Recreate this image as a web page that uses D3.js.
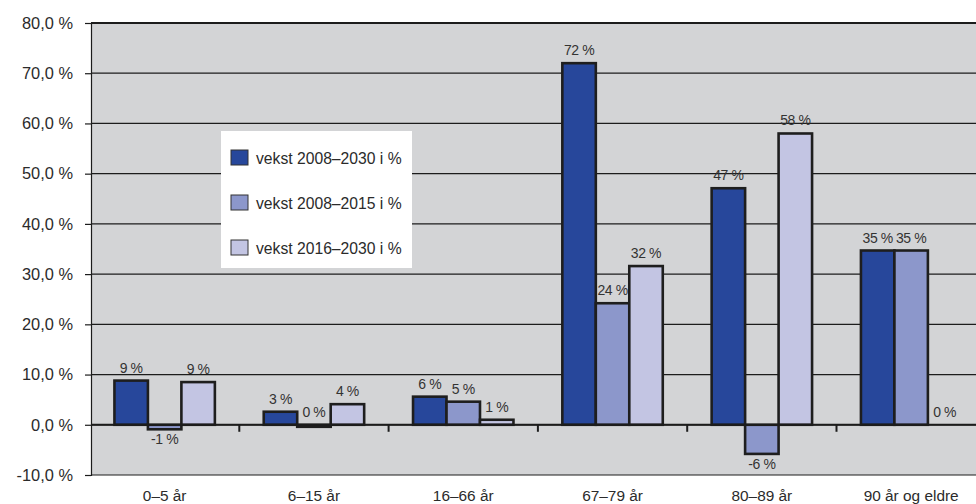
<!DOCTYPE html>
<html>
<head>
<meta charset="utf-8">
<script src="https://cdn.jsdelivr.net/npm/d3@7/dist/d3.min.js"></script>
<style>
  html, body { margin: 0; padding: 0; background: #fff; }
  svg { display: block; font-family: "Liberation Sans", Arial, sans-serif; }
</style>
</head>
<body>
<svg id="chart" width="976" height="504"></svg>
<script>
// Age groups along the x axis
const categories = ["0–5 år", "6–15 år", "16–66 år", "67–79 år", "80–89 år", "90 år og eldre"];

// Growth in percent per age group
const seriesNames = ["vekst 2008–2030 i %", "vekst 2008–2015 i %", "vekst 2016–2030 i %"];
const vekst2008_2030 = [8.8, 2.6, 5.6, 72.0, 47.1, 34.7];
const vekst2008_2015 = [-0.9, -0.4, 4.6, 24.2, -5.8, 34.7];
const vekst2016_2030 = [8.5, 4.1, 1.0, 31.6, 58.0, 0];
const seriesValues = [vekst2008_2030, vekst2008_2015, vekst2016_2030];

// Y axis ticks
const yTicks = [-10, 0, 10, 20, 30, 40, 50, 60, 70, 80];

const colors = ["#27479b", "#8c97cb", "#c3c5e3"];

const W = 976, H = 504;
const plot = { left: 91, right: 976, top: 23, bottom: 475 };

const svg = d3.select("#chart");

const y = d3.scaleLinear().domain([-10, 80]).range([plot.bottom, plot.top]);
const x0 = d3.scaleBand().domain(categories).range([90, 90 + 6 * 149.3]);
const x1 = d3.scaleBand().domain(d3.range(seriesNames.length))
  .range([0, x0.bandwidth()]).paddingInner(0).paddingOuter(0.73);

// Plot background
svg.append("rect")
  .attr("x", plot.left).attr("y", plot.top)
  .attr("width", plot.right - plot.left).attr("height", plot.bottom - plot.top)
  .attr("fill", "#d3d4d6");

// Horizontal gridlines
svg.append("g").selectAll("line").data(yTicks).join("line")
  .attr("x1", plot.left).attr("x2", plot.right)
  .attr("y1", d => y(d)).attr("y2", d => y(d))
  .attr("stroke", "#1c1c1c")
  .attr("stroke-width", d => (d === 80 ? 2 : 1.2));

// Y axis
const yAxis = svg.append("g")
  .attr("transform", `translate(${plot.left},0)`)
  .call(d3.axisLeft(y).tickValues(yTicks).tickSize(6).tickPadding(12)
    .tickFormat(d => d.toFixed(1).replace(".", ",") + " %"));
yAxis.select(".domain").attr("stroke", "#1c1c1c").attr("stroke-width", 1.2);
yAxis.selectAll(".tick line").attr("stroke", "#1c1c1c").attr("stroke-width", 1.2);
yAxis.selectAll(".tick text")
  .attr("fill", "#2b2b2b")
  .style("font-size", "16.4px")
  .style("font-family", "'Liberation Sans', Arial, sans-serif");

// Bars
const barData = [];
categories.forEach((c, ci) => {
  seriesValues.forEach((vals, si) => {
    barData.push({ c, si, v: vals[ci] });
  });
});

svg.append("g").selectAll("rect").data(barData.filter(d => d.v !== 0)).join("rect")
  .attr("x", d => x0(d.c) + x1(d.si))
  .attr("width", x1.bandwidth())
  .attr("y", d => y(Math.max(0, d.v)))
  .attr("height", d => Math.abs(y(d.v) - y(0)))
  .attr("fill", d => colors[d.si])
  .attr("stroke", "#1e1e1e")
  .attr("stroke-width", 2.6);

// Zero line
svg.append("line")
  .attr("x1", plot.left).attr("x2", plot.right)
  .attr("y1", y(0)).attr("y2", y(0))
  .attr("stroke", "#1c1c1c").attr("stroke-width", 2);

// Category separators below the zero line
svg.append("g").selectAll("line").data(categories.slice(1)).join("line")
  .attr("x1", d => x0(d)).attr("x2", d => x0(d))
  .attr("y1", y(0)).attr("y2", y(0) + 7)
  .attr("stroke", "#1c1c1c").attr("stroke-width", 2);

// Value labels
svg.append("g").selectAll("text").data(barData).join("text")
  .attr("x", d => x0(d.c) + x1(d.si) + x1.bandwidth() / 2)
  .attr("y", d => Math.round(d.v) >= 0 ? y(Math.max(0, d.v)) - 8 : y(d.v) + 15)
  .attr("text-anchor", "middle")
  .attr("fill", "#333")
  .style("font-size", "14px")
  .style("letter-spacing", "-0.4px")
  .text(d => `${Math.round(d.v)} %`);

// Category labels, kept inside the page on the right
const catLabels = svg.append("g").selectAll("text").data(categories).join("text")
  .attr("x", d => x0(d) + x0.bandwidth() / 2)
  .attr("y", 501)
  .attr("text-anchor", "middle")
  .attr("fill", "#2b2b2b")
  .style("font-size", "15.4px")
  .text(d => d);
catLabels.each(function () {
  const bb = this.getBBox();
  if (bb.x + bb.width > W - 1) {
    d3.select(this).attr("x", +d3.select(this).attr("x") - (bb.x + bb.width - (W - 1)));
  }
});

// Legend
const legend = svg.append("g");
legend.append("rect")
  .attr("x", 221).attr("y", 131).attr("width", 191).attr("height", 137)
  .attr("fill", "#fff");
const rows = legend.selectAll("g.row").data(seriesNames).join("g")
  .attr("class", "row")
  .attr("transform", (d, i) => `translate(231,${150 + i * 45})`);
rows.append("rect")
  .attr("width", 17).attr("height", 15)
  .attr("fill", (d, i) => colors[i])
  .attr("stroke", "#333").attr("stroke-width", 1);
rows.append("text")
  .attr("x", 25).attr("y", 13.5)
  .attr("fill", "#2b2b2b")
  .style("font-size", "15.7px")
  .text(d => d);
</script>
</body>
</html>
